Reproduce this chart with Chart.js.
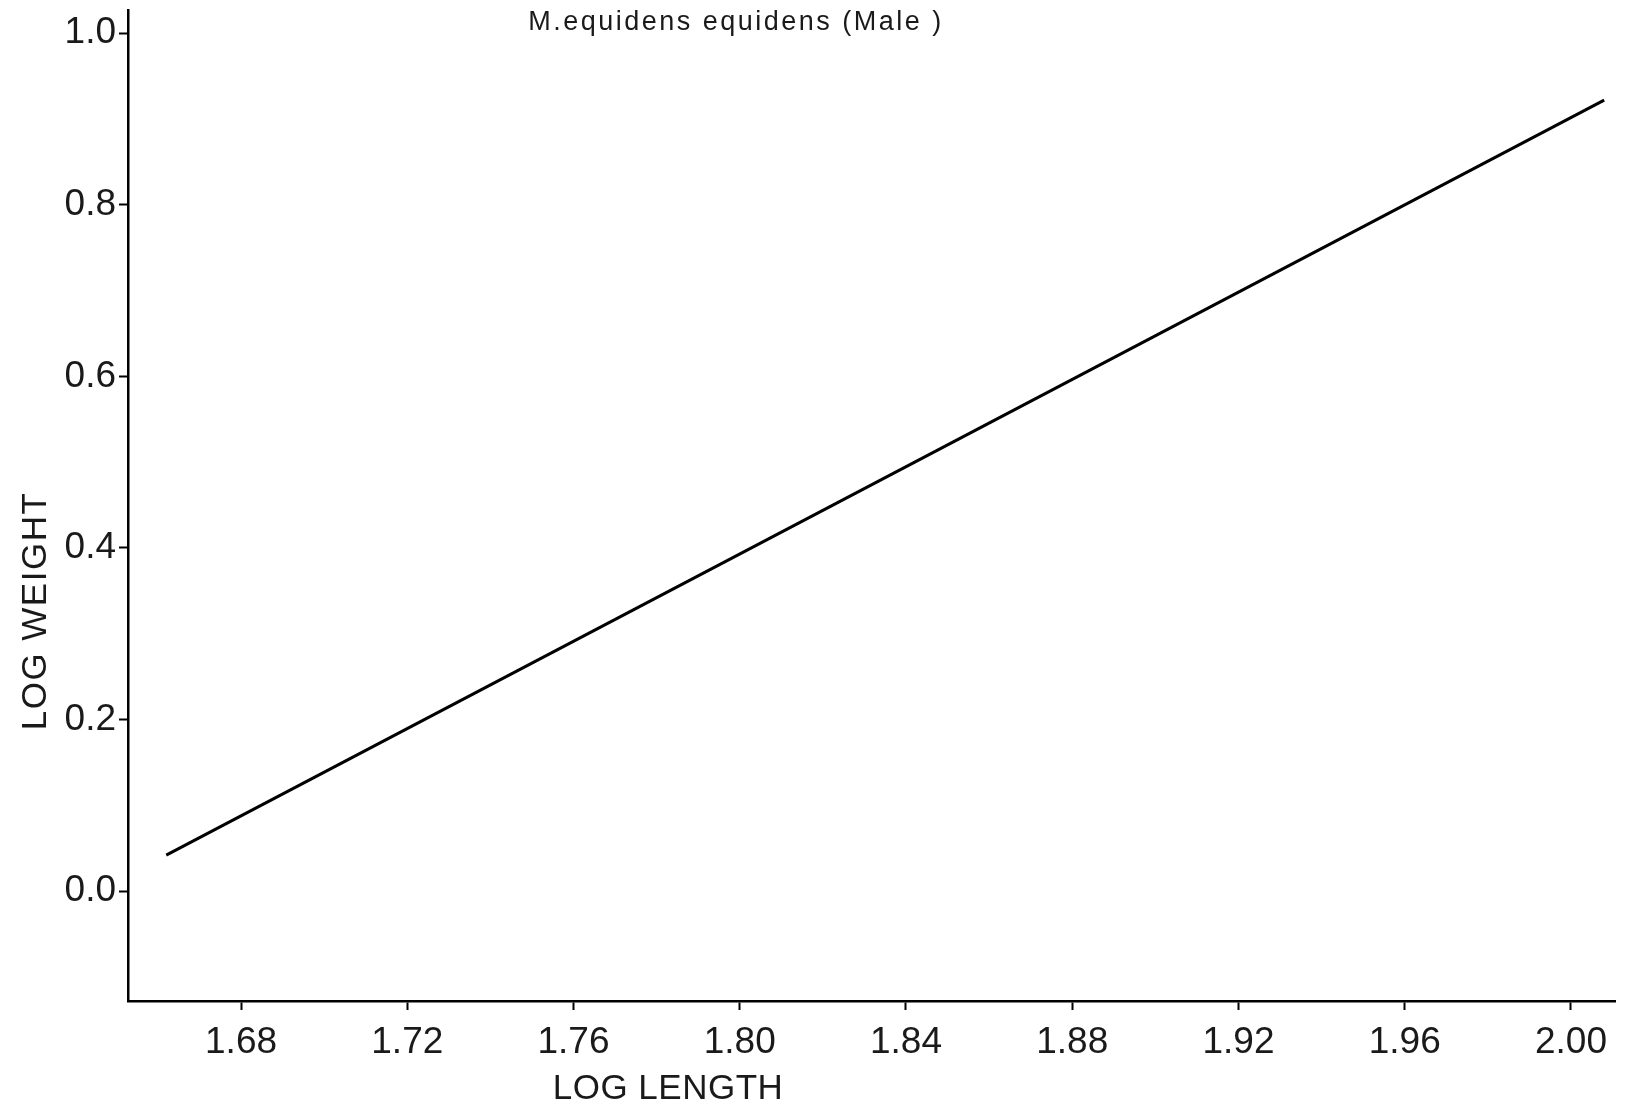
<!DOCTYPE html>
<html>
<head>
<meta charset="utf-8">
<title>M.equidens equidens (Male)</title>
<script src="https://cdn.jsdelivr.net/npm/chart.js@4.4.1/dist/chart.umd.min.js"></script>
<style>
  html, body { margin: 0; padding: 0; background: #fff; }
  #wrap { width: 1637px; height: 1109px; position: relative; }
</style>
</head>
<body>
<div id="wrap"><canvas id="myChart"></canvas></div>
<script>
// fitted regression line, log length vs log weight
const logLength = [1.662, 2.008];
const logWeight = [0.042, 0.922];

const xTicks = [1.68, 1.72, 1.76, 1.80, 1.84, 1.88, 1.92, 1.96, 2.00];
const yTicks = [0.0, 0.2, 0.4, 0.6, 0.8, 1.0];

const chartTitle = 'M.equidens equidens (Male )';
const xTitle = 'LOG LENGTH';
const yTitle = 'LOG WEIGHT';

const tickFont = { family: 'Liberation Sans', size: 37 };

// title and axis names are placed by hand, not centred on the axes
const textPlugin = {
    id: 'handText',
    afterDraw(chart) {
        const ctx = chart.ctx;
        ctx.save();
        ctx.fillStyle = '#1a1a1a';
        ctx.textAlign = 'center';
        ctx.textBaseline = 'middle';

        ctx.font = '27px "Liberation Sans"';
        ctx.letterSpacing = '2.5px';
        ctx.fillText(chartTitle, 736, 23);

        ctx.font = '35px "Liberation Sans"';
        ctx.letterSpacing = '0.5px';
        ctx.fillText(xTitle, 668, 1089);

        ctx.translate(36, 611);
        ctx.rotate(-Math.PI / 2);
        ctx.letterSpacing = '1.5px';
        ctx.fillText(yTitle, 0, 0);
        ctx.restore();
    }
};

const points = logLength.map((x, i) => ({ x: x, y: logWeight[i] }));

let ctx = document.querySelector('#myChart').getContext('2d');
myChart = new Chart(ctx, {
    type: 'scatter',
    plugins: [textPlugin],
    data: {
        datasets: [{
            data: points,
            showLine: true,
            borderColor: '#000',
            borderWidth: 3,
            pointRadius: 0,
            fill: false
        }]
    },
    options: {
        responsive: true,
        maintainAspectRatio: false,
        animation: false,
        layout: {
            padding: { top: 10, right: 22, left: 0, bottom: 0 }
        },
        plugins: {
            legend: { display: false },
            tooltip: { enabled: false },
            title: { display: false }
        },
        scales: {
            x: {
                type: 'linear',
                min: 1.6528,
                max: 2.0106,
                afterFit: (scale) => {
                    scale.height = 108;
                    scale.paddingLeft = 0;
                    scale.paddingRight = 0;
                },
                afterBuildTicks: (scale) => { scale.ticks = xTicks.map(v => ({ value: v })); },
                border: { display: true, color: '#000', width: 2.5 },
                grid: {
                    display: true,
                    drawOnChartArea: false,
                    drawTicks: true,
                    tickLength: 9,
                    tickColor: '#000',
                    tickWidth: 2
                },
                ticks: {
                    color: '#1a1a1a',
                    font: tickFont,
                    padding: 11,
                    maxRotation: 0,
                    autoSkip: false,
                    callback: (v) => Number(v).toFixed(2)
                }
            },
            y: {
                type: 'linear',
                min: -0.128,
                max: 1.027,
                afterFit: (scale) => {
                    scale.width = 128;
                    scale.paddingTop = 0;
                    scale.paddingBottom = 0;
                },
                afterBuildTicks: (scale) => { scale.ticks = yTicks.map(v => ({ value: v })); },
                border: { display: true, color: '#000', width: 2.5 },
                grid: {
                    display: true,
                    drawOnChartArea: false,
                    drawTicks: true,
                    tickLength: 9,
                    tickColor: '#000',
                    tickWidth: 2
                },
                ticks: {
                    color: '#1a1a1a',
                    font: tickFont,
                    padding: 3,
                    autoSkip: false,
                    callback: (v) => Number(v).toFixed(1)
                }
            }
        }
    }
});
</script>
</body>
</html>
